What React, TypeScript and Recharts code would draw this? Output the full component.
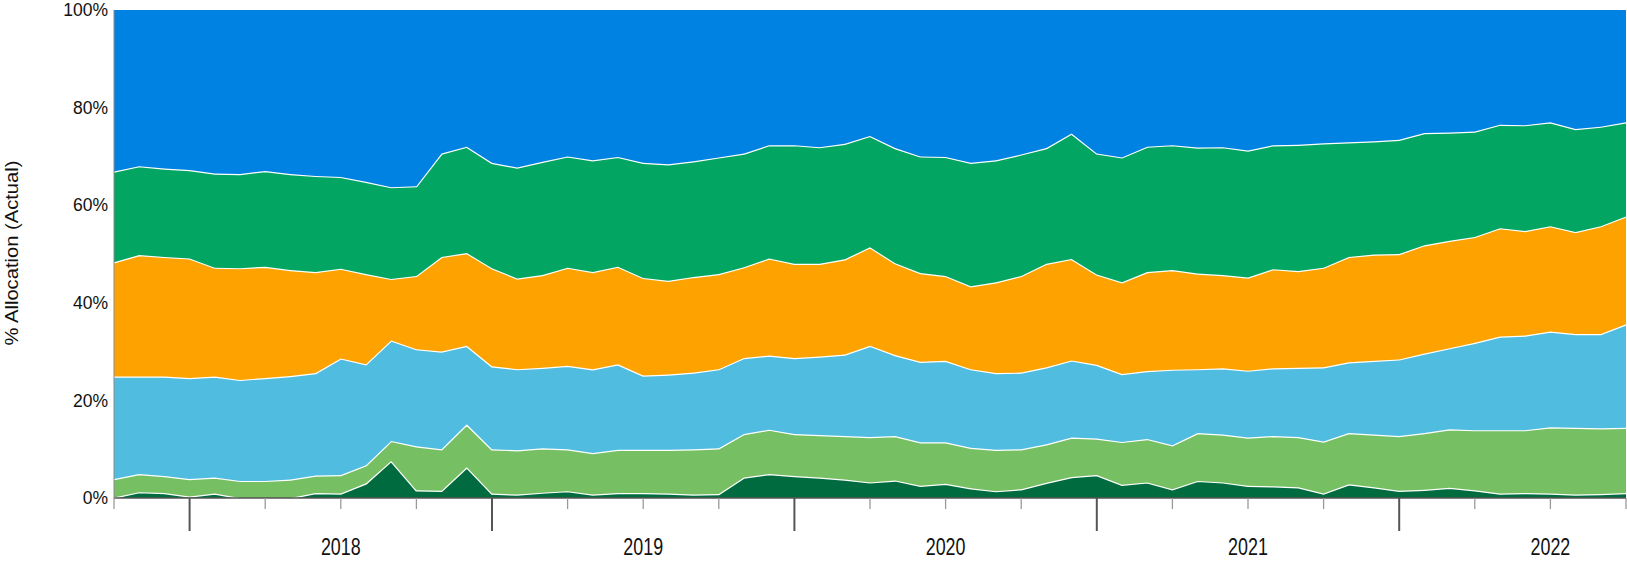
import React from "react";
import { AreaChart, Area, XAxis, YAxis } from "recharts";

// monthly points, Oct 2017 .. Oct 2022
const months = [
  "Oct 17", "Nov 17", "Dec 17",
  "Jan 18", "Feb 18", "Mar 18", "Apr 18", "May 18", "Jun 18", "Jul 18", "Aug 18", "Sep 18", "Oct 18", "Nov 18", "Dec 18",
  "Jan 19", "Feb 19", "Mar 19", "Apr 19", "May 19", "Jun 19", "Jul 19", "Aug 19", "Sep 19", "Oct 19", "Nov 19", "Dec 19",
  "Jan 20", "Feb 20", "Mar 20", "Apr 20", "May 20", "Jun 20", "Jul 20", "Aug 20", "Sep 20", "Oct 20", "Nov 20", "Dec 20",
  "Jan 21", "Feb 21", "Mar 21", "Apr 21", "May 21", "Jun 21", "Jul 21", "Aug 21", "Sep 21", "Oct 21", "Nov 21", "Dec 21",
  "Jan 22", "Feb 22", "Mar 22", "Apr 22", "May 22", "Jun 22", "Jul 22", "Aug 22", "Sep 22", "Oct 22",
];

// % allocation per bucket, bottom to top
const darkGreen = [
  0.1, 1.2, 1.0, 0.3, 0.9, 0.0, 0.0, 0.0, 1.0, 0.9,
  3.0, 7.6, 1.6, 1.5, 6.3, 0.9, 0.7, 1.1, 1.4, 0.7,
  1.0, 1.0, 0.9, 0.7, 0.8, 4.2, 4.9, 4.5, 4.2, 3.8,
  3.2, 3.6, 2.5, 2.9, 2.0, 1.4, 1.8, 3.1, 4.3, 4.7,
  2.7, 3.2, 1.8, 3.5, 3.2, 2.5, 2.4, 2.2, 0.9, 2.8,
  2.2, 1.5, 1.7, 2.1, 1.6, 0.9, 1.0, 0.9, 0.7, 0.8,
  1.0,
];
const lightGreen = [
  3.8, 3.7, 3.5, 3.6, 3.3, 3.5, 3.5, 3.8, 3.6, 3.8,
  3.7, 4.1, 9.0, 8.5, 8.8, 9.1, 9.1, 9.1, 8.6, 8.5,
  8.9, 8.9, 9.0, 9.3, 9.4, 8.9, 9.1, 8.6, 8.7, 8.9,
  9.3, 9.1, 8.9, 8.5, 8.3, 8.5, 8.2, 7.9, 8.1, 7.5,
  8.8, 8.9, 9.0, 9.8, 9.8, 9.9, 10.3, 10.3, 10.7, 10.5,
  10.8, 11.2, 11.6, 12.0, 12.3, 13.0, 12.9, 13.6, 13.7, 13.5,
  13.4,
];
const lightBlue = [
  21.0, 20.0, 20.4, 20.7, 20.7, 20.7, 21.1, 21.2, 21.0, 23.9,
  20.7, 20.6, 19.9, 20.0, 16.1, 17.0, 16.6, 16.5, 17.1, 17.2,
  17.5, 15.2, 15.4, 15.7, 16.2, 15.6, 15.2, 15.6, 16.1, 16.7,
  18.7, 16.6, 16.5, 16.7, 16.1, 15.7, 15.7, 15.8, 15.8, 15.1,
  13.9, 13.9, 15.5, 13.1, 13.6, 13.7, 13.9, 14.2, 15.2, 14.5,
  15.1, 15.7, 16.3, 16.6, 17.9, 19.2, 19.4, 19.6, 19.2, 19.3,
  21.2,
];
const orange = [
  23.4, 24.9, 24.5, 24.5, 22.3, 22.9, 22.8, 21.7, 20.7, 18.4,
  18.5, 12.6, 15.0, 19.4, 19.0, 20.1, 18.6, 19.0, 20.1, 19.9,
  20.0, 20.0, 19.2, 19.6, 19.5, 18.6, 19.9, 19.3, 19.0, 19.5,
  20.2, 18.8, 18.2, 17.4, 17.0, 18.6, 19.8, 21.2, 20.8, 18.5,
  18.8, 20.3, 20.4, 19.6, 19.1, 19.1, 20.3, 19.8, 20.4, 21.6,
  21.8, 21.6, 22.2, 22.0, 21.7, 22.2, 21.4, 21.6, 20.9, 22.1,
  22.1,
];
const green = [
  18.6, 18.2, 18.1, 18.1, 19.3, 19.3, 19.6, 19.7, 19.7, 18.8,
  18.9, 18.8, 18.4, 21.2, 21.8, 21.6, 22.7, 23.2, 22.8, 22.9,
  22.5, 23.6, 23.9, 23.7, 23.9, 23.3, 23.2, 24.3, 23.9, 23.7,
  22.8, 23.6, 23.9, 24.4, 25.3, 25.0, 24.9, 23.7, 25.7, 24.8,
  25.6, 25.7, 25.6, 25.8, 26.2, 26.0, 25.4, 25.9, 25.5, 23.5,
  23.2, 23.4, 23.0, 22.2, 21.6, 21.2, 21.7, 21.3, 21.1, 20.4,
  19.3,
];
const blue = [
  33.1, 32.0, 32.5, 32.8, 33.5, 33.6, 33.0, 33.6, 34.0, 34.2,
  35.2, 36.3, 36.1, 29.4, 28.0, 31.3, 32.3, 31.1, 30.0, 30.8,
  30.1, 31.3, 31.6, 31.0, 30.2, 29.4, 27.7, 27.7, 28.1, 27.4,
  25.8, 28.3, 30.0, 30.1, 31.3, 30.8, 29.6, 28.3, 25.3, 29.4,
  30.2, 28.0, 27.7, 28.2, 28.1, 28.8, 27.7, 27.6, 27.3, 27.1,
  26.9, 26.6, 25.2, 25.1, 24.9, 23.5, 23.6, 23.0, 24.4, 23.9,
  23.0,
];

const yTicks = [0, 0.2, 0.4, 0.6, 0.8, 1];

const series = [
  { key: "darkGreen", color: "#006B3F" },
  { key: "lightGreen", color: "#76C063" },
  { key: "lightBlue", color: "#50BCE0" },
  { key: "orange", color: "#FEA200" },
  { key: "green", color: "#02A562" },
  { key: "blue", color: "#0082E2" },
];

const data = months.map((m, i) => ({
  t: i,
  month: m,
  darkGreen: darkGreen[i],
  lightGreen: lightGreen[i],
  lightBlue: lightBlue[i],
  orange: orange[i],
  green: green[i],
  blue: blue[i],
}));

// quarter ticks; long ones at year start, year label under July
const quarterTicks = months
  .map((m, i) => (/^(Jan|Apr|Jul|Oct)/.test(m) ? i : -1))
  .filter((i) => i >= 0);

const FONT = "'Liberation Sans', Arial, sans-serif";

function MonthTick(props: any) {
  const { x, y, payload } = props;
  const m = months[payload.value] || "";
  const yearStart = m.startsWith("Jan");
  const mid = m.startsWith("Jul");
  return (
    <g>
      <line
        x1={x}
        x2={x}
        y1={y}
        y2={y + (yearStart ? 33 : 11)}
        stroke={yearStart ? "#555" : "#9a9a9a"}
        strokeWidth={yearStart ? 2 : 1.3}
      />
      {mid && (
        <text
          transform={`translate(${x} ${y + 57}) scale(0.73 1)`}
          textAnchor="middle"
          fontSize={24.5}
          fontFamily={FONT}
          fill="#111"
        >
          {"20" + m.slice(-2)}
        </text>
      )}
    </g>
  );
}

export default function App() {
  return (
    <div style={{ position: "absolute", left: 0, top: 0, width: 1627, height: 563, background: "#fff" }}>
      <AreaChart
        width={1627}
        height={563}
        data={data}
        stackOffset="expand"
        margin={{ top: 10, right: 1, bottom: 0, left: 0 }}
      >
        {series.map((s) => (
          <Area
            key={s.key}
            type="linear"
            dataKey={s.key}
            stackId="a"
            fill={s.color}
            fillOpacity={1}
            stroke={s.key === "blue" ? "none" : "#fff"}
            strokeWidth={2.4}
            dot={false}
            activeDot={false}
            isAnimationActive={false}
          />
        ))}
        <XAxis
          dataKey="t"
          type="number"
          domain={[0, months.length - 1]}
          ticks={quarterTicks}
          interval={0}
          tick={<MonthTick />}
          tickLine={false}
          tickSize={0}
          tickMargin={0}
          height={65}
          axisLine={{ stroke: "#555", strokeWidth: 1.5 }}
        />
        <XAxis
          xAxisId="top"
          orientation="top"
          dataKey="t"
          type="number"
          domain={[0, months.length - 1]}
          height={0}
          tick={false}
          tickLine={false}
          axisLine={{ stroke: "#808080" }}
        />
        <YAxis
          width={114}
          domain={[0, 1]}
          ticks={yTicks}
          interval={0}
          tickFormatter={(v: number) => `${Math.round(v * 100)}%`}
          tickLine={false}
          tickSize={0}
          tickMargin={6}
          tick={{ fontSize: 17.5, fill: "#111", fontFamily: FONT }}
          axisLine={{ stroke: "#8a8a8a" }}
          label={{
            content: () => (
              <text
                transform="translate(18 253) rotate(-90) scale(1.12 1)"
                textAnchor="middle"
                fontSize={18}
                fontFamily={FONT}
                fill="#111"
              >
                % Allocation (Actual)
              </text>
            ),
          }}
        />
        <YAxis
          yAxisId="right"
          orientation="right"
          width={0}
          domain={[0, 1]}
          tick={false}
          tickLine={false}
          axisLine={{ stroke: "#808080" }}
        />
      </AreaChart>
    </div>
  );
}
